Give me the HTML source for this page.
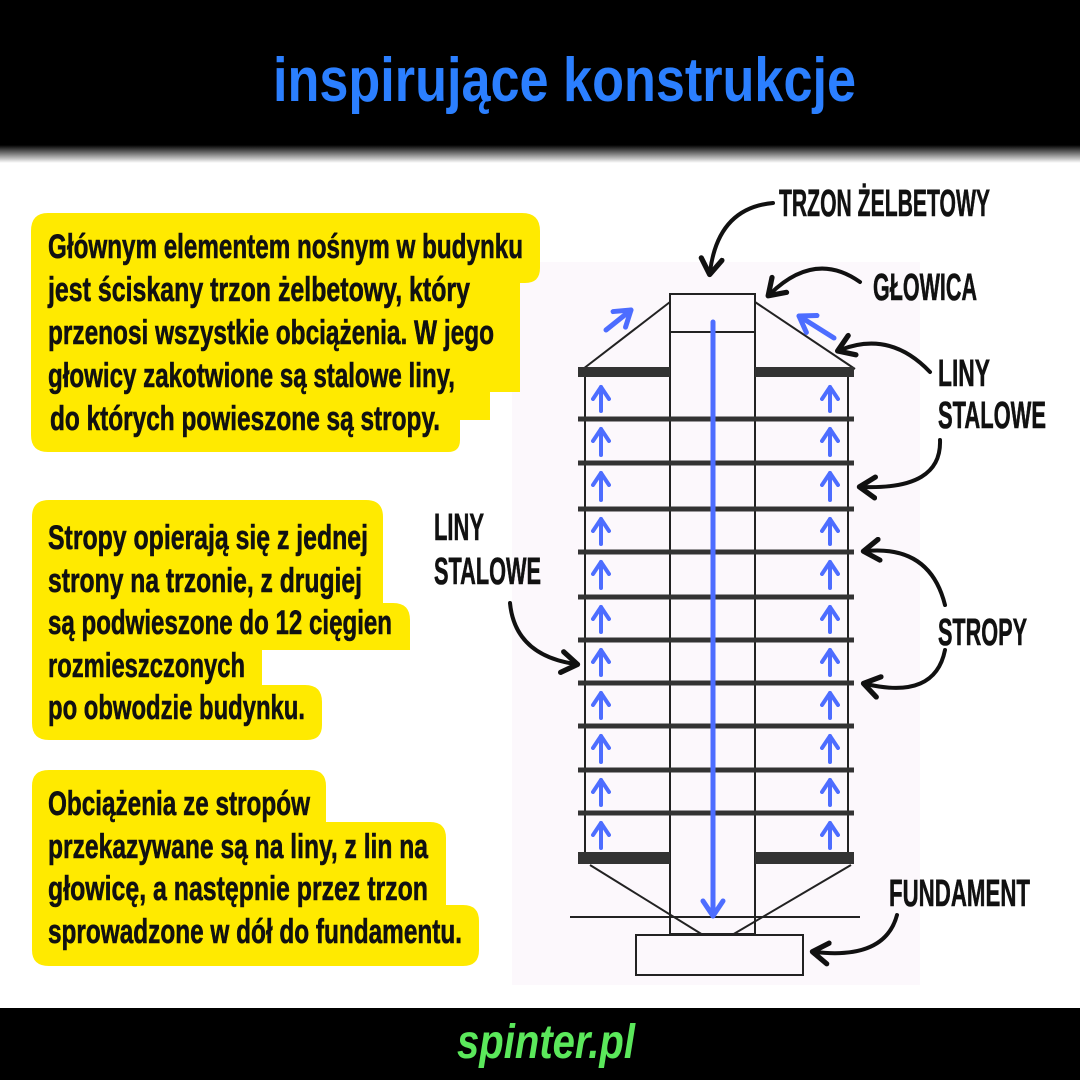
<!DOCTYPE html>
<html><head><meta charset="utf-8"><style>
html,body{margin:0;padding:0;background:#fff}
svg{display:block}
.c{font-family:"Liberation Sans Narrow","Liberation Sans",sans-serif;font-weight:bold;fill:#111;stroke:#111;stroke-width:0.6}
</style></head><body>
<svg width="1080" height="1080" viewBox="0 0 1080 1080" xmlns="http://www.w3.org/2000/svg">
<defs>
<linearGradient id="g" x1="0" y1="0" x2="0" y2="1"><stop offset="0" stop-color="#000"/><stop offset="1" stop-color="#fff"/></linearGradient>
<marker id="ah" viewBox="0 0 10 10" refX="6" refY="5" markerWidth="6.5" markerHeight="6.5" orient="auto"><path d="M1,1 L7,5 L1,9" fill="none" stroke="#111" stroke-width="2" stroke-linecap="round" stroke-linejoin="round"/></marker>
<marker id="bh" viewBox="0 0 10 10" refX="7" refY="5" markerWidth="5" markerHeight="5" orient="auto"><path d="M1,1 L7,5 L1,9" fill="none" stroke="#4d6dff" stroke-width="2" stroke-linecap="round" stroke-linejoin="round"/></marker>
</defs>
<rect width="1080" height="1080" fill="#fff"/>
<rect width="1080" height="145" fill="#000"/>
<rect y="145" width="1080" height="18" fill="url(#g)"/>
<text x="273" y="101" textLength="583" lengthAdjust="spacingAndGlyphs" font-family="Liberation Sans,sans-serif" font-weight="bold" font-size="62" fill="#2b7fff">inspirujące konstrukcje</text>
<rect y="1008" width="1080" height="72" fill="#000"/>
<text x="457" y="1058" textLength="178" lengthAdjust="spacingAndGlyphs" font-family="Liberation Sans,sans-serif" font-weight="bold" font-style="italic" font-size="48" fill="#5be85b">spinter.pl</text>

<rect x="512" y="262" width="408" height="723" fill="#fcf8fc"/>
<g stroke="#222" fill="none" stroke-width="2">
<rect x="670" y="294" width="85" height="640"/>
<line x1="670" y1="332" x2="755" y2="332"/>
<line x1="585" y1="370" x2="585" y2="860"/>
<line x1="848" y1="370" x2="848" y2="860"/>
<line x1="583" y1="369" x2="670" y2="302"/>
<line x1="855" y1="369" x2="755" y2="302"/>
<line x1="590" y1="865" x2="703" y2="935"/>
<line x1="851" y1="865" x2="732" y2="935"/>
<line x1="570" y1="917" x2="860" y2="917"/>
<rect x="636" y="935" width="167" height="40"/>
</g>
<g fill="#333">
<rect x="578" y="367" width="92" height="10"/><rect x="755" y="367" width="99" height="10"/>
<rect x="578" y="852" width="92" height="12"/><rect x="755" y="852" width="99" height="12"/>
</g>
<g stroke="#333" stroke-width="5">
<line x1="578" y1="419" x2="854" y2="419"/>
<line x1="578" y1="463" x2="854" y2="463"/>
<line x1="578" y1="509" x2="854" y2="509"/>
<line x1="578" y1="552" x2="854" y2="552"/>
<line x1="578" y1="597" x2="854" y2="597"/>
<line x1="578" y1="640" x2="854" y2="640"/>
<line x1="578" y1="683" x2="854" y2="683"/>
<line x1="578" y1="726" x2="854" y2="726"/>
<line x1="578" y1="770" x2="854" y2="770"/>
<line x1="578" y1="813" x2="854" y2="813"/>
</g>
<g stroke="#fcf8fc" stroke-width="2">
<line x1="671" y1="372" x2="754" y2="372"/><line x1="671" y1="858" x2="754" y2="858"/>
</g>
<g stroke="#4d6dff" stroke-width="5" fill="none" stroke-linecap="round" marker-end="url(#bh)">
<line x1="713" y1="322" x2="713" y2="916"/>
<line x1="606" y1="330" x2="631" y2="310"/>
<line x1="834" y1="338" x2="799" y2="316"/>
</g>
<g stroke="#4d6dff" stroke-width="4" fill="none" stroke-linecap="round" marker-end="url(#bh)">
<line x1="601" y1="411" x2="601" y2="387"/><line x1="830" y1="411" x2="830" y2="387"/>
<line x1="601" y1="455" x2="601" y2="429"/><line x1="830" y1="455" x2="830" y2="429"/>
<line x1="601" y1="500" x2="601" y2="473"/><line x1="830" y1="500" x2="830" y2="473"/>
<line x1="601" y1="544" x2="601" y2="519"/><line x1="830" y1="544" x2="830" y2="519"/>
<line x1="601" y1="588" x2="601" y2="562"/><line x1="830" y1="588" x2="830" y2="562"/>
<line x1="601" y1="632" x2="601" y2="607"/><line x1="830" y1="632" x2="830" y2="607"/>
<line x1="601" y1="675" x2="601" y2="650"/><line x1="830" y1="675" x2="830" y2="650"/>
<line x1="601" y1="718" x2="601" y2="693"/><line x1="830" y1="718" x2="830" y2="693"/>
<line x1="601" y1="762" x2="601" y2="736"/><line x1="830" y1="762" x2="830" y2="736"/>
<line x1="601" y1="805" x2="601" y2="780"/><line x1="830" y1="805" x2="830" y2="780"/>
<line x1="601" y1="848" x2="601" y2="823"/><line x1="830" y1="848" x2="830" y2="823"/>
</g>

<g fill="#ffea00">
<path d="M48,213 H522 Q540,213 540,231 V268 Q540,283 525,283 H520 V392 H490 V420 H460 V440 Q460,452 448,452 H48 Q31,452 31,435 V231 Q31,213 48,213 Z"/>
<path d="M49,500 H366 Q383,500 383,517 V603 H393 Q410,603 410,620 V650 H262 V685 H305 Q322,685 322,702 V725 Q322,740 307,740 H49 Q32,740 32,723 V517 Q32,500 49,500 Z"/>
<path d="M49,770 H310 Q326,770 326,786 V822 H430 Q446,822 446,838 V905 H463 Q479,905 479,921 V950 Q479,966 463,966 H49 Q32,966 32,950 V786 Q32,770 49,770 Z"/>
</g>
<g class="c" font-size="34">
<text x="48" y="258" textLength="475" lengthAdjust="spacingAndGlyphs">Głównym elementem nośnym w budynku</text>
<text x="48" y="301" textLength="422" lengthAdjust="spacingAndGlyphs">jest ściskany trzon żelbetowy, który</text>
<text x="48" y="344" textLength="446" lengthAdjust="spacingAndGlyphs">przenosi wszystkie obciążenia. W jego</text>
<text x="48" y="387" textLength="407" lengthAdjust="spacingAndGlyphs">głowicy zakotwione są stalowe liny,</text>
<text x="50" y="430" textLength="390" lengthAdjust="spacingAndGlyphs">do których powieszone są stropy.</text>
<text x="48" y="549" textLength="320" lengthAdjust="spacingAndGlyphs">Stropy opierają się z jednej</text>
<text x="48" y="592" textLength="314" lengthAdjust="spacingAndGlyphs">strony na trzonie, z drugiej</text>
<text x="48" y="634" textLength="344" lengthAdjust="spacingAndGlyphs">są podwieszone do 12 cięgien</text>
<text x="48" y="677" textLength="197" lengthAdjust="spacingAndGlyphs">rozmieszczonych</text>
<text x="48" y="719" textLength="257" lengthAdjust="spacingAndGlyphs">po obwodzie budynku.</text>
<text x="48" y="815" textLength="262" lengthAdjust="spacingAndGlyphs">Obciążenia ze stropów</text>
<text x="48" y="858" textLength="380" lengthAdjust="spacingAndGlyphs">przekazywane są na liny, z lin na</text>
<text x="48" y="900" textLength="380" lengthAdjust="spacingAndGlyphs">głowicę, a następnie przez trzon</text>
<text x="48" y="943" textLength="414" lengthAdjust="spacingAndGlyphs">sprowadzone w dół do fundamentu.</text>
</g>
<g class="c" font-size="38">
<text x="779" y="216" textLength="211" lengthAdjust="spacingAndGlyphs">TRZON ŻELBETOWY</text>
<text x="873" y="300" textLength="104" lengthAdjust="spacingAndGlyphs">GŁOWICA</text>
<text x="938" y="386" textLength="52" lengthAdjust="spacingAndGlyphs">LINY</text>
<text x="938" y="428" textLength="108" lengthAdjust="spacingAndGlyphs">STALOWE</text>
<text x="434" y="540" textLength="50" lengthAdjust="spacingAndGlyphs">LINY</text>
<text x="434" y="584" textLength="107" lengthAdjust="spacingAndGlyphs">STALOWE</text>
<text x="938" y="645" textLength="89" lengthAdjust="spacingAndGlyphs">STROPY</text>
<text x="889" y="906" textLength="141" lengthAdjust="spacingAndGlyphs">FUNDAMENT</text>
</g>
<g stroke="#111" stroke-width="4" fill="none" stroke-linecap="round" marker-end="url(#ah)">
<path d="M773,203 Q718,208 710,272"/>
<path d="M860,282 Q815,250 770,294"/>
<path d="M930,372 Q890,330 840,350"/>
<path d="M940,440 Q942,490 862,487"/>
<path d="M945,605 Q930,545 866,551"/>
<path d="M945,650 Q935,700 866,684"/>
<path d="M510,603 Q515,655 575,664"/>
<path d="M897,915 Q885,960 815,952"/>
</g>
</svg>
</body></html>
